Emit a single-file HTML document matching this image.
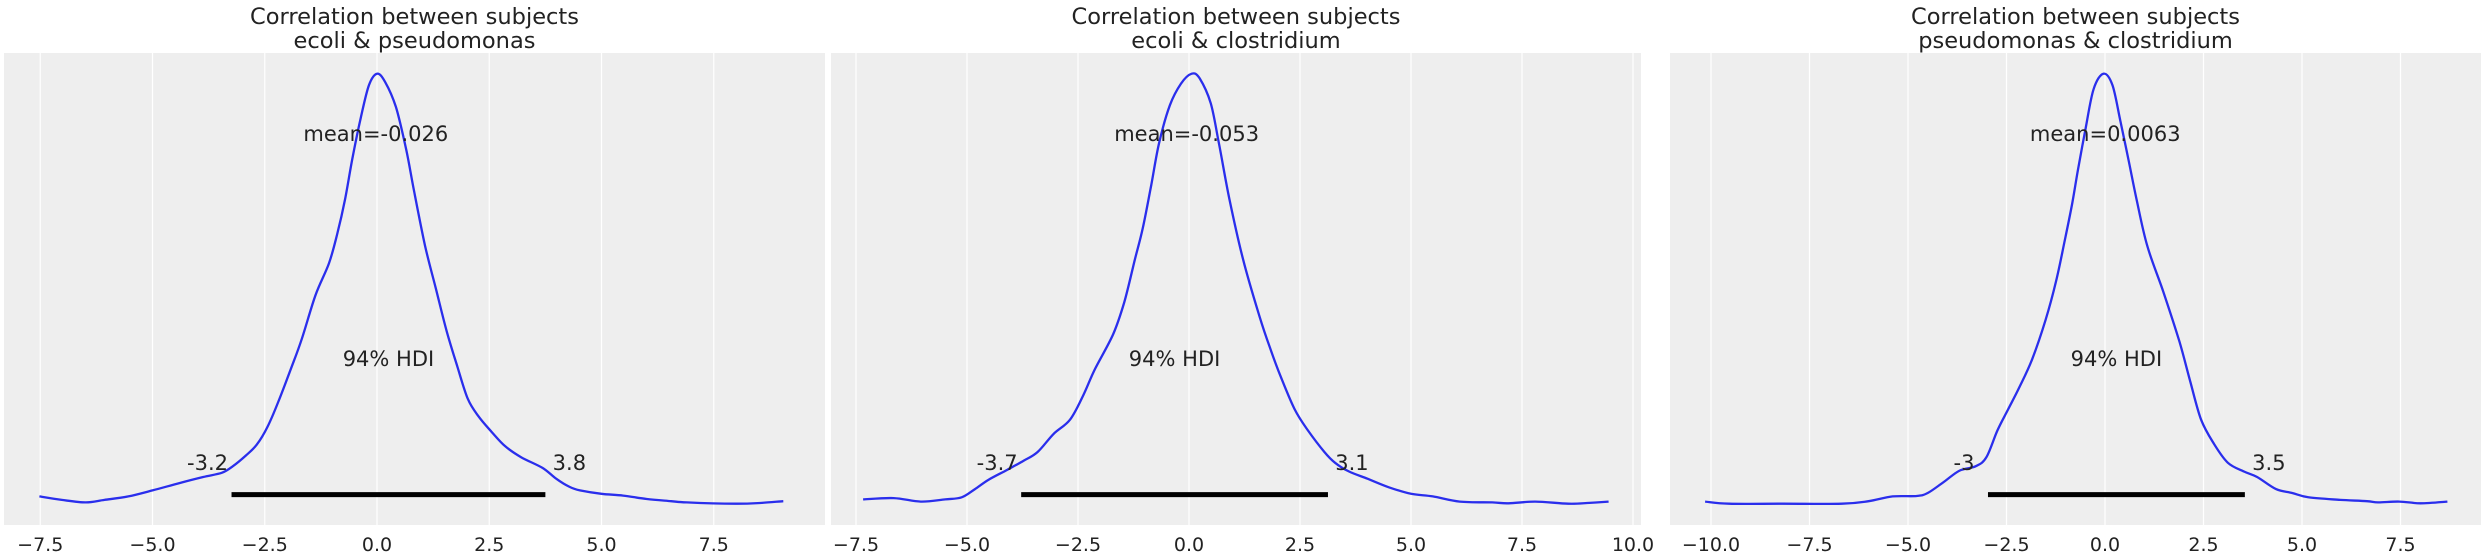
<!DOCTYPE html>
<html><head><meta charset="utf-8"><style>
html,body{margin:0;padding:0;background:#fff;}
svg{display:block;font-family:"DejaVu Sans","Liberation Sans",sans-serif;}
</style></head><body>
<svg id="chart" width="2484" height="552" viewBox="0 0 2484 552" xmlns="http://www.w3.org/2000/svg"></svg>
<script>
// ---- data ----
const titles1 = ["Correlation between subjects","Correlation between subjects","Correlation between subjects"];
const titles2 = ["ecoli & pseudomonas","ecoli & clostridium","pseudomonas & clostridium"];
const meanLabels = ["mean=-0.026","mean=-0.053","mean=0.0063"];
const meanValues = [-0.026,-0.053,0.0063];
const hdiLow = [-3.24,-3.78,-2.97];
const hdiHigh = [3.75,3.13,3.55];
const hdiLowLabels = ["-3.2","-3.7","-3"];
const hdiHighLabels = ["3.8","3.1","3.5"];
const ticks1 = [-7.5,-5,-2.5,0,2.5,5,7.5];
const ticks2 = [-7.5,-5,-2.5,0,2.5,5,7.5,10];
const ticks3 = [-10,-7.5,-5,-2.5,0,2.5,5,7.5];
const kdeX1 = [-7.52,-7.02,-6.49,-6.07,-5.54,-5.0,-4.40,-3.87,-3.45,-3.21,-2.92,-2.68,-2.44,-2.20,-1.90,-1.67,-1.37,-1.07,-0.89,-0.71,-0.54,-0.36,-0.18,0,0.18,0.42,0.65,0.83,1.07,1.31,1.55,1.79,2.02,2.26,2.56,2.86,3.21,3.69,3.99,4.29,4.52,5.0,5.48,6.01,6.55,6.90,7.98,8.57,9.05];
const kdeY1 = [.019,.011,.005,.011,.019,.033,.050,.064,.074,.089,.114,.139,.180,.238,.320,.386,.486,.560,.626,.709,.808,.898,.973,1,.981,.923,.824,.725,.601,.502,.403,.320,.246,.205,.168,.135,.110,.085,.060,.041,.033,.025,.021,.013,.008,.005,.002,.004,.008];
const kdeX2 = [-7.34,-6.65,-6.04,-5.49,-5.12,-4.82,-4.51,-4.09,-3.72,-3.41,-3.05,-2.68,-2.38,-2.13,-1.71,-1.46,-1.22,-1.04,-0.85,-0.67,-0.43,-0.18,0.06,0.24,0.49,0.67,0.91,1.22,1.59,1.83,2.07,2.38,2.68,3.05,3.29,3.60,4.02,4.51,5.0,5.49,6.10,6.83,7.20,7.80,8.54,9.02,9.45];
const kdeY2 = [.012,.015,.007,.012,.017,.036,.058,.081,.102,.122,.164,.197,.254,.312,.395,.469,.568,.642,.742,.841,.927,.977,1,.989,.931,.841,.709,.568,.436,.362,.296,.221,.172,.122,.097,.077,.060,.040,.025,.019,.007,.005,.003,.007,.002,.004,.007];
const kdeX3 = [-10.15,-9.54,-8.18,-6.68,-6.0,-5.39,-4.78,-4.50,-4.10,-3.69,-3.28,-3.01,-2.73,-2.46,-2.18,-1.85,-1.51,-1.24,-1.03,-0.83,-0.69,-0.49,-0.29,-0.04,0.19,0.39,0.60,0.80,1.07,1.48,1.89,2.16,2.44,2.78,3.12,3.52,3.86,4.34,4.75,5.16,5.97,6.65,6.93,7.47,8.01,8.69];
const kdeY3 = [.007,.002,.002,.002,.008,.019,.020,.027,.052,.079,.089,.110,.172,.221,.271,.337,.428,.519,.609,.700,.775,.874,.964,1,.973,.890,.799,.709,.601,.494,.378,.287,.197,.139,.097,.077,.064,.036,.027,.017,.011,.008,.005,.007,.003,.007];

// ---- layout ----
const panels = [
  {left:4,right:825,zeroPx:377,ppu:44.9,ticks:ticks1,kx:kdeX1,ky:kdeY1},
  {left:831,right:1641,zeroPx:1189,ppu:44.4,ticks:ticks2,kx:kdeX2,ky:kdeY2},
  {left:1670,right:2481,zeroPx:2105,ppu:39.4,ticks:ticks3,kx:kdeX3,ky:kdeY3}
];
const plotTop=53,plotBottom=525,yZero=504.6,yPeak=73.7;
const NS="http://www.w3.org/2000/svg";
const svgEl=document.getElementById('chart');
function mk(tag,attrs,parent){const e=document.createElementNS(NS,tag);for(const k in attrs)e.setAttribute(k,attrs[k]);(parent||svgEl).appendChild(e);return e;}
function fmt(t){const s=t.toFixed(1);return s.replace('-','\u2212');}
function smoothPath(pts){
  let d='M'+pts[0][0].toFixed(1)+','+pts[0][1].toFixed(1);
  for(let i=0;i<pts.length-1;i++){
    const p0=pts[Math.max(0,i-1)],p1=pts[i],p2=pts[i+1],p3=pts[Math.min(pts.length-1,i+2)];
    const c1=[p1[0]+(p2[0]-p0[0])/6,p1[1]+(p2[1]-p0[1])/6];
    const c2=[p2[0]-(p3[0]-p1[0])/6,p2[1]-(p3[1]-p1[1])/6];
    d+='C'+c1[0].toFixed(1)+','+c1[1].toFixed(1)+' '+c2[0].toFixed(1)+','+c2[1].toFixed(1)+' '+p2[0].toFixed(1)+','+p2[1].toFixed(1);
  }
  return d;
}

panels.forEach((p,i)=>{
  const sx=v=>p.zeroPx+v*p.ppu;
  const sy=v=>yZero-v*(yZero-yPeak);
  const g=mk('g',{});
  
  
  const bg=mk('rect',{x:p.left,y:plotTop,width:p.right-p.left,height:plotBottom-plotTop,fill:'#eeeeee'},g);
  
  
  p.ticks.forEach(t=>{
    const gl=mk('line',{x1:sx(t),x2:sx(t),y1:plotTop,y2:plotBottom,stroke:'#ffffff','stroke-width':1.2},g);
    
    
    const tl=mk('text',{x:sx(t),y:551,'text-anchor':'middle','font-size':19,fill:'#222'},g);
    tl.textContent=fmt(t);
    
    
  });
  const cx=(p.left+p.right)/2;
  const t1=mk('text',{x:cx,y:24,'text-anchor':'middle','font-size':22.5,fill:'#222'},g);
  t1.textContent=titles1[i];
  
  
  const t2=mk('text',{x:cx,y:48,'text-anchor':'middle','font-size':22.5,fill:'#222'},g);
  t2.textContent=titles2[i];
  
  
  const pts=p.kx.map((x,j)=>[sx(x),sy(p.ky[j])]);
  const path=mk('path',{d:smoothPath(pts),fill:'none',stroke:'#2a2eec','stroke-width':2.3,'stroke-linejoin':'round'},g);
  
  
  const bar=mk('line',{x1:sx(hdiLow[i]),x2:sx(hdiHigh[i]),y1:494.6,y2:494.6,stroke:'#000','stroke-width':5},g);
  
  
  const ml=mk('text',{x:sx(meanValues[i]),y:141,'text-anchor':'middle','font-size':21,fill:'#222'},g);
  ml.textContent=meanLabels[i];
  
  
  const hl=mk('text',{x:(sx(hdiLow[i])+sx(hdiHigh[i]))/2,y:366,'text-anchor':'middle','font-size':21,fill:'#222'},g);
  hl.textContent='94% HDI';
  
  
  const ll=mk('text',{x:sx(hdiLow[i])-24,y:470,'text-anchor':'middle','font-size':21,fill:'#222'},g);
  ll.textContent=hdiLowLabels[i];
  
  
  const rl=mk('text',{x:sx(hdiHigh[i])+24,y:470,'text-anchor':'middle','font-size':21,fill:'#222'},g);
  rl.textContent=hdiHighLabels[i];
  
  
});
</script>
</body></html>
